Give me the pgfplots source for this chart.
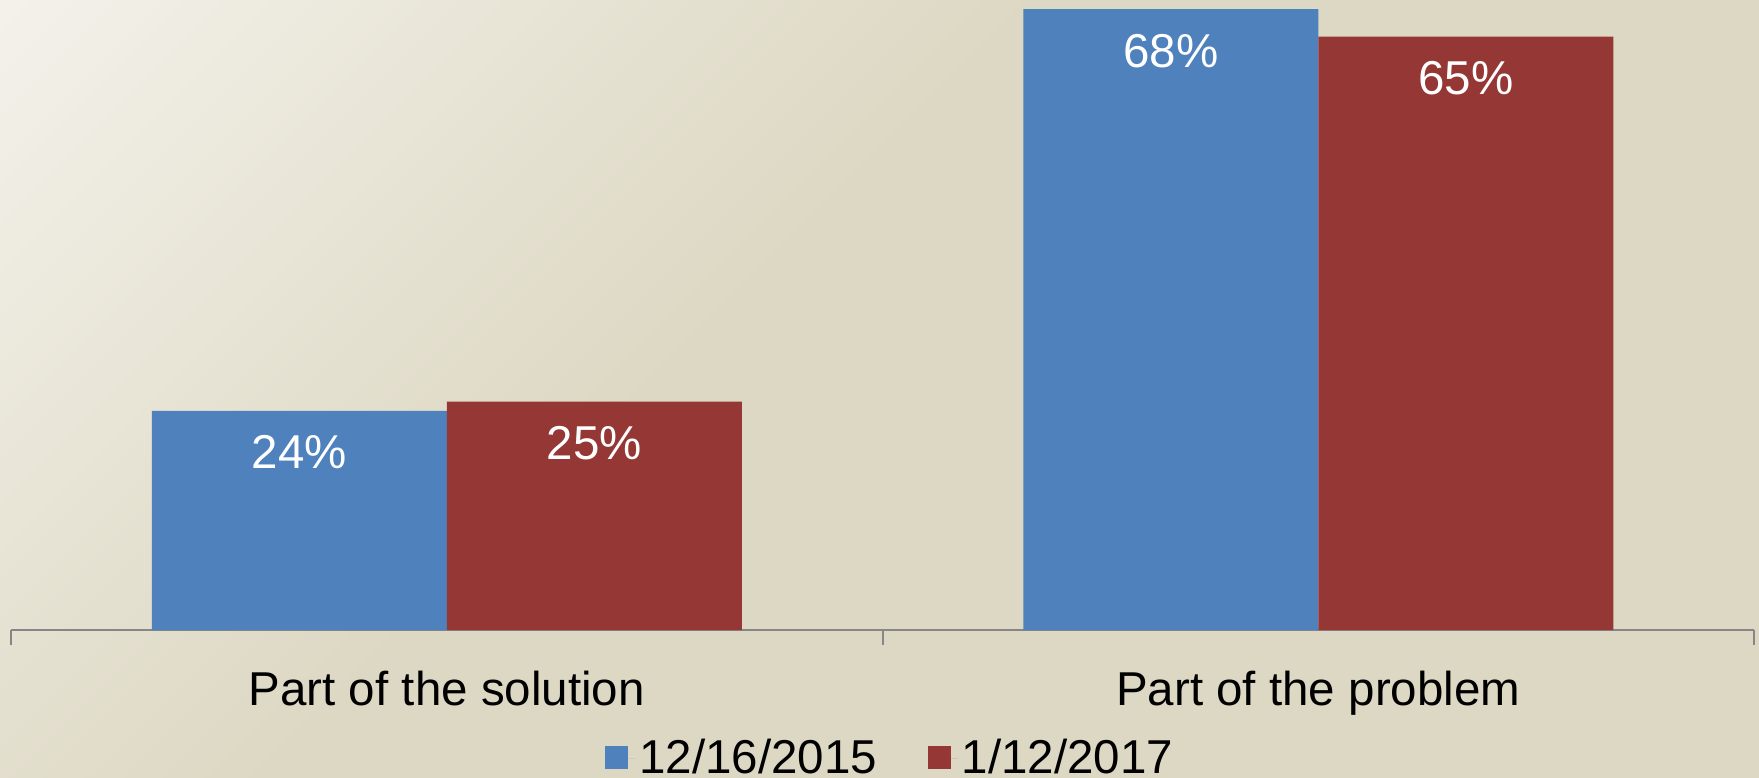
\documentclass[border=0pt]{standalone}
\usepackage{pgfplots}
\pgfplotsset{compat=1.18}
\usepackage{fontspec}
\setmainfont{Liberation Sans}
\definecolor{bglight}{HTML}{F3F1EA}
\definecolor{bgbeige}{HTML}{DDD8C3}
\definecolor{barblue}{HTML}{4F81BD}
\definecolor{barred}{HTML}{953735}
\definecolor{axgray}{HTML}{868686}
\pgfdeclarehorizontalshading{bgshade}{100bp}{color(0bp)=(bglight); color(14.64bp)=(bglight); color(33bp)=(bgbeige); color(100bp)=(bgbeige)}
\newcommand\bigf{\fontsize{23.75pt}{28pt}\selectfont}

\pgfplotstableread{
x y
0 24
1 68
}\first
\pgfplotstableread{
x y
0 25
1 65
}\second

\begin{document}
\begin{tikzpicture}
\useasboundingbox (0,0) rectangle (879.5pt,388.5pt);
\clip (0,0) rectangle (879.5pt,388.5pt);
\fill[bgbeige] (0,0) rectangle (879.5pt,388.5pt);
\shade[shading=bgshade, shading angle=-45] (0pt,-611.5pt) rectangle (1000pt,388.5pt);
\begin{axis}[
  at={(5.5pt,73.5pt)}, anchor=south west,
  scale only axis, width=871.5pt, height=315pt,
  xmin=-0.5, xmax=1.5, ymin=0, ymax=69,
  ybar=0pt, bar width=147.5pt,
  axis x line=bottom, axis y line=none,
  x axis line style={draw=axgray, line width=1pt, -},
  xtick={0,1},
  xticklabels={Part of the solution, Part of the problem},
  major tick length=0pt,
  xtick style={draw=none},
  xticklabel style={font=\bigf, text=black, anchor=base, yshift=-37.8pt},
  extra x ticks={-0.5,0.5,1.5},
  extra x tick labels={},
  extra x tick style={major tick length=7.5pt, tick align=outside, xtick style={draw=axgray, line width=1pt}},
  /pgf/number format/assume math mode=true,
  nodes near coords={\pgfmathprintnumber{\pgfplotspointmeta}\%},
  every node near coord/.append style={font=\bigf, text=white, anchor=base, yshift=-29pt},
  legend columns=2,
  legend style={at={(0.505,-0.1667)}, anchor=north, draw=none, fill=none, inner sep=0pt, font=\bigf,
    /tikz/every even column/.append style={column sep=23.5pt}},
  legend image code/.code={\path (0pt,0pt) -- (15pt,0pt); \fill[#1] (0pt,-5.25pt) rectangle (11.5pt,6.25pt);},
]
\addplot[fill=barblue, draw=none] table[x=x,y=y] {\first};
\addplot[fill=barred, draw=none] table[x=x,y=y] {\second};
\legend{12/16/2015, 1/12/2017}
\end{axis}
\end{tikzpicture}
\end{document}
